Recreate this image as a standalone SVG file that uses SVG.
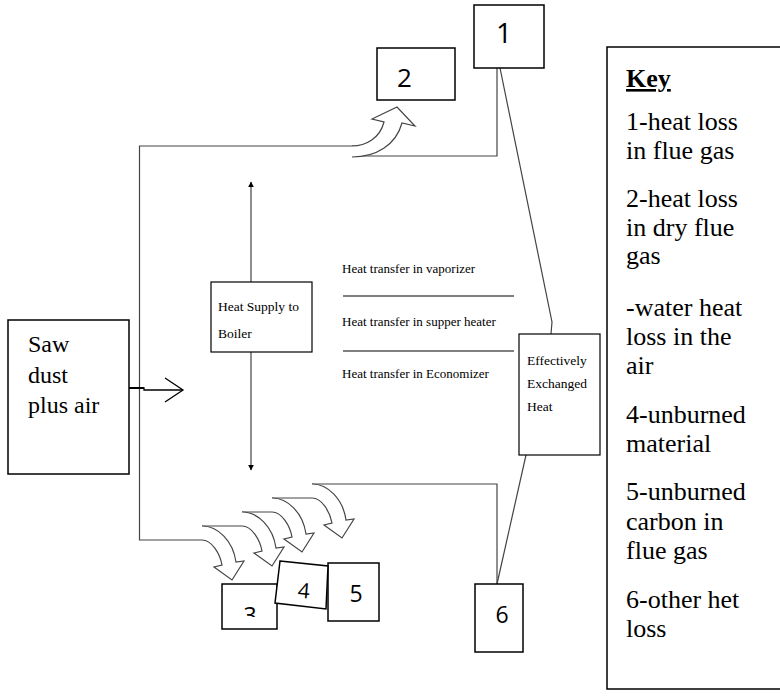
<svg xmlns="http://www.w3.org/2000/svg" width="780" height="696" viewBox="0 0 780 696">
<style>
.box{fill:#fff;stroke:#000;stroke-width:1.5}
.ln{fill:none;stroke:#444;stroke-width:1.2}
.cv{fill:#fff;stroke:#444;stroke-width:1.2}
.key{font-size:26px}
.sm{font-size:13.5px}
.tr{font-family:'Liberation Serif','Times New Roman','DejaVu Serif',serif}
.sn{font-family:'Open Sans','Liberation Sans',sans-serif}
</style>
<defs>
<marker id="ah" viewBox="0 0 10 10" refX="9" refY="5" markerWidth="6" markerHeight="8" orient="auto" markerUnits="userSpaceOnUse">
<path d="M0,0 L10,5 L0,10 Z" fill="#000"/>
</marker>
<path id="carrow" d="M0,0 C16,0 31,15 34,36 L42,35 L30,54 L12,41 L20,39 C18,28 10,14 0,14"/>
<clipPath id="clip3"><rect x="222" y="584" width="55" height="33"/></clipPath>
</defs>

<g id="connectors">
<path class="ln" d="M355,146 H139.5 V540 H202"/>
<path class="ln" d="M497,68 V156 H355"/>
<path class="ln" d="M497,584 V484 H312"/>
<path class="ln" d="M202,526 H242 M242,512 H272 M272,498 H312"/>
<path class="ln" d="M500,68 L552,322 L551,334"/>
<path class="ln" d="M526,455 L497,584"/>
<line x1="251" y1="282" x2="251" y2="182" stroke="#444" stroke-width="1.2" marker-end="url(#ah)"/>
<line x1="251" y1="352" x2="251" y2="470" stroke="#444" stroke-width="1.2" marker-end="url(#ah)"/>
<path d="M129,388 H144 V390 H183" fill="none" stroke="#000" stroke-width="1.3"/>
<path d="M144,388 H129" fill="none" stroke="#000" stroke-width="2"/>
<path d="M165,378 L183,390 L165,402" fill="none" stroke="#000" stroke-width="1.3"/>
<line x1="343" y1="296" x2="514" y2="296" stroke="#000" stroke-width="1.2"/>
<line x1="343" y1="351" x2="514" y2="351" stroke="#000" stroke-width="1.2"/>
<path class="cv" d="M352,146 C366,146 380,138 384,122 L372,119 L397,107 L415,126 L402,123 C396,145 376,157 352,157"/>
<use href="#carrow" class="cv" transform="translate(202,526)"/>
<use href="#carrow" class="cv" transform="translate(242,512)"/>
<use href="#carrow" class="cv" transform="translate(272,498)"/>
<use href="#carrow" class="cv" transform="translate(312,484)"/>
</g>

<g id="node-1">
<rect class="box" x="474" y="5" width="70" height="63"/>
<text class="sn" x="496" y="43" font-size="28">1</text>
</g>
<g id="node-2">
<rect class="box" x="377" y="48" width="78" height="52"/>
<text class="sn" x="397" y="87" font-size="26">2</text>
</g>
<g id="node-saw">
<rect class="box" x="8" y="320" width="121" height="154"/>
<text class="tr" font-size="24" x="28" y="352">Saw</text>
<text class="tr" font-size="24" x="28" y="383">dust</text>
<text class="tr" font-size="24" x="28" y="413">plus air</text>
</g>
<g id="node-heat-supply">
<rect class="box" x="211" y="282" width="101" height="70" style="stroke-width:1.2"/>
<text class="tr sm" x="218" y="311">Heat Supply to</text>
<text class="tr sm" x="218" y="338">Boiler</text>
</g>
<g id="node-transfer">
<text class="tr" font-size="13" x="342" y="273">Heat transfer in vaporizer</text>
<text class="tr" font-size="13" x="342" y="326">Heat transfer in supper heater</text>
<text class="tr" font-size="13" x="342" y="378">Heat transfer in Economizer</text>
</g>
<g id="node-exchanged">
<rect class="box" x="519" y="334" width="81" height="121" style="stroke-width:1.2"/>
<text class="tr sm" x="527" y="365">Effectively</text>
<text class="tr sm" x="527" y="388">Exchanged</text>
<text class="tr sm" x="527" y="411">Heat</text>
</g>
<g id="node-3">
<rect class="box" x="222" y="584" width="55" height="45"/>
<text class="sn" x="250" y="624" font-size="23" text-anchor="middle" clip-path="url(#clip3)">3</text>
</g>
<g id="node-5">
<rect class="box" x="328" y="563" width="51" height="58"/>
<text class="sn" x="356" y="602" font-size="23" text-anchor="middle">5</text>
</g>
<g id="node-4">
<path class="box" d="M280,561 L328,566 L326,609 L275,603 Z"/>
<text class="sn" x="304" y="598" font-size="21" text-anchor="middle" transform="rotate(5 304 590)">4</text>
</g>
<g id="node-6">
<rect class="box" x="475" y="584" width="48" height="68"/>
<text class="sn" x="502" y="623" font-size="23" text-anchor="middle">6</text>
</g>
<g id="node-key">
<rect class="box" x="607" y="47" width="180" height="642"/>
<text class="tr key" x="626" y="87" font-weight="bold" text-decoration="underline">Key</text>
<text class="tr key" x="626" y="130">1-heat loss</text>
<text class="tr key" x="626" y="159">in flue gas</text>
<text class="tr key" x="626" y="207">2-heat loss</text>
<text class="tr key" x="626" y="236">in dry flue</text>
<text class="tr key" x="626" y="264">gas</text>
<text class="tr key" x="626" y="316">-water heat</text>
<text class="tr key" x="626" y="345">loss in the</text>
<text class="tr key" x="626" y="374">air</text>
<text class="tr key" x="626" y="423">4-unburned</text>
<text class="tr key" x="626" y="452">material</text>
<text class="tr key" x="626" y="500">5-unburned</text>
<text class="tr key" x="626" y="530">carbon in</text>
<text class="tr key" x="626" y="559">flue gas</text>
<text class="tr key" x="626" y="608">6-other het</text>
<text class="tr key" x="626" y="637">loss</text>
</g>
</svg>
